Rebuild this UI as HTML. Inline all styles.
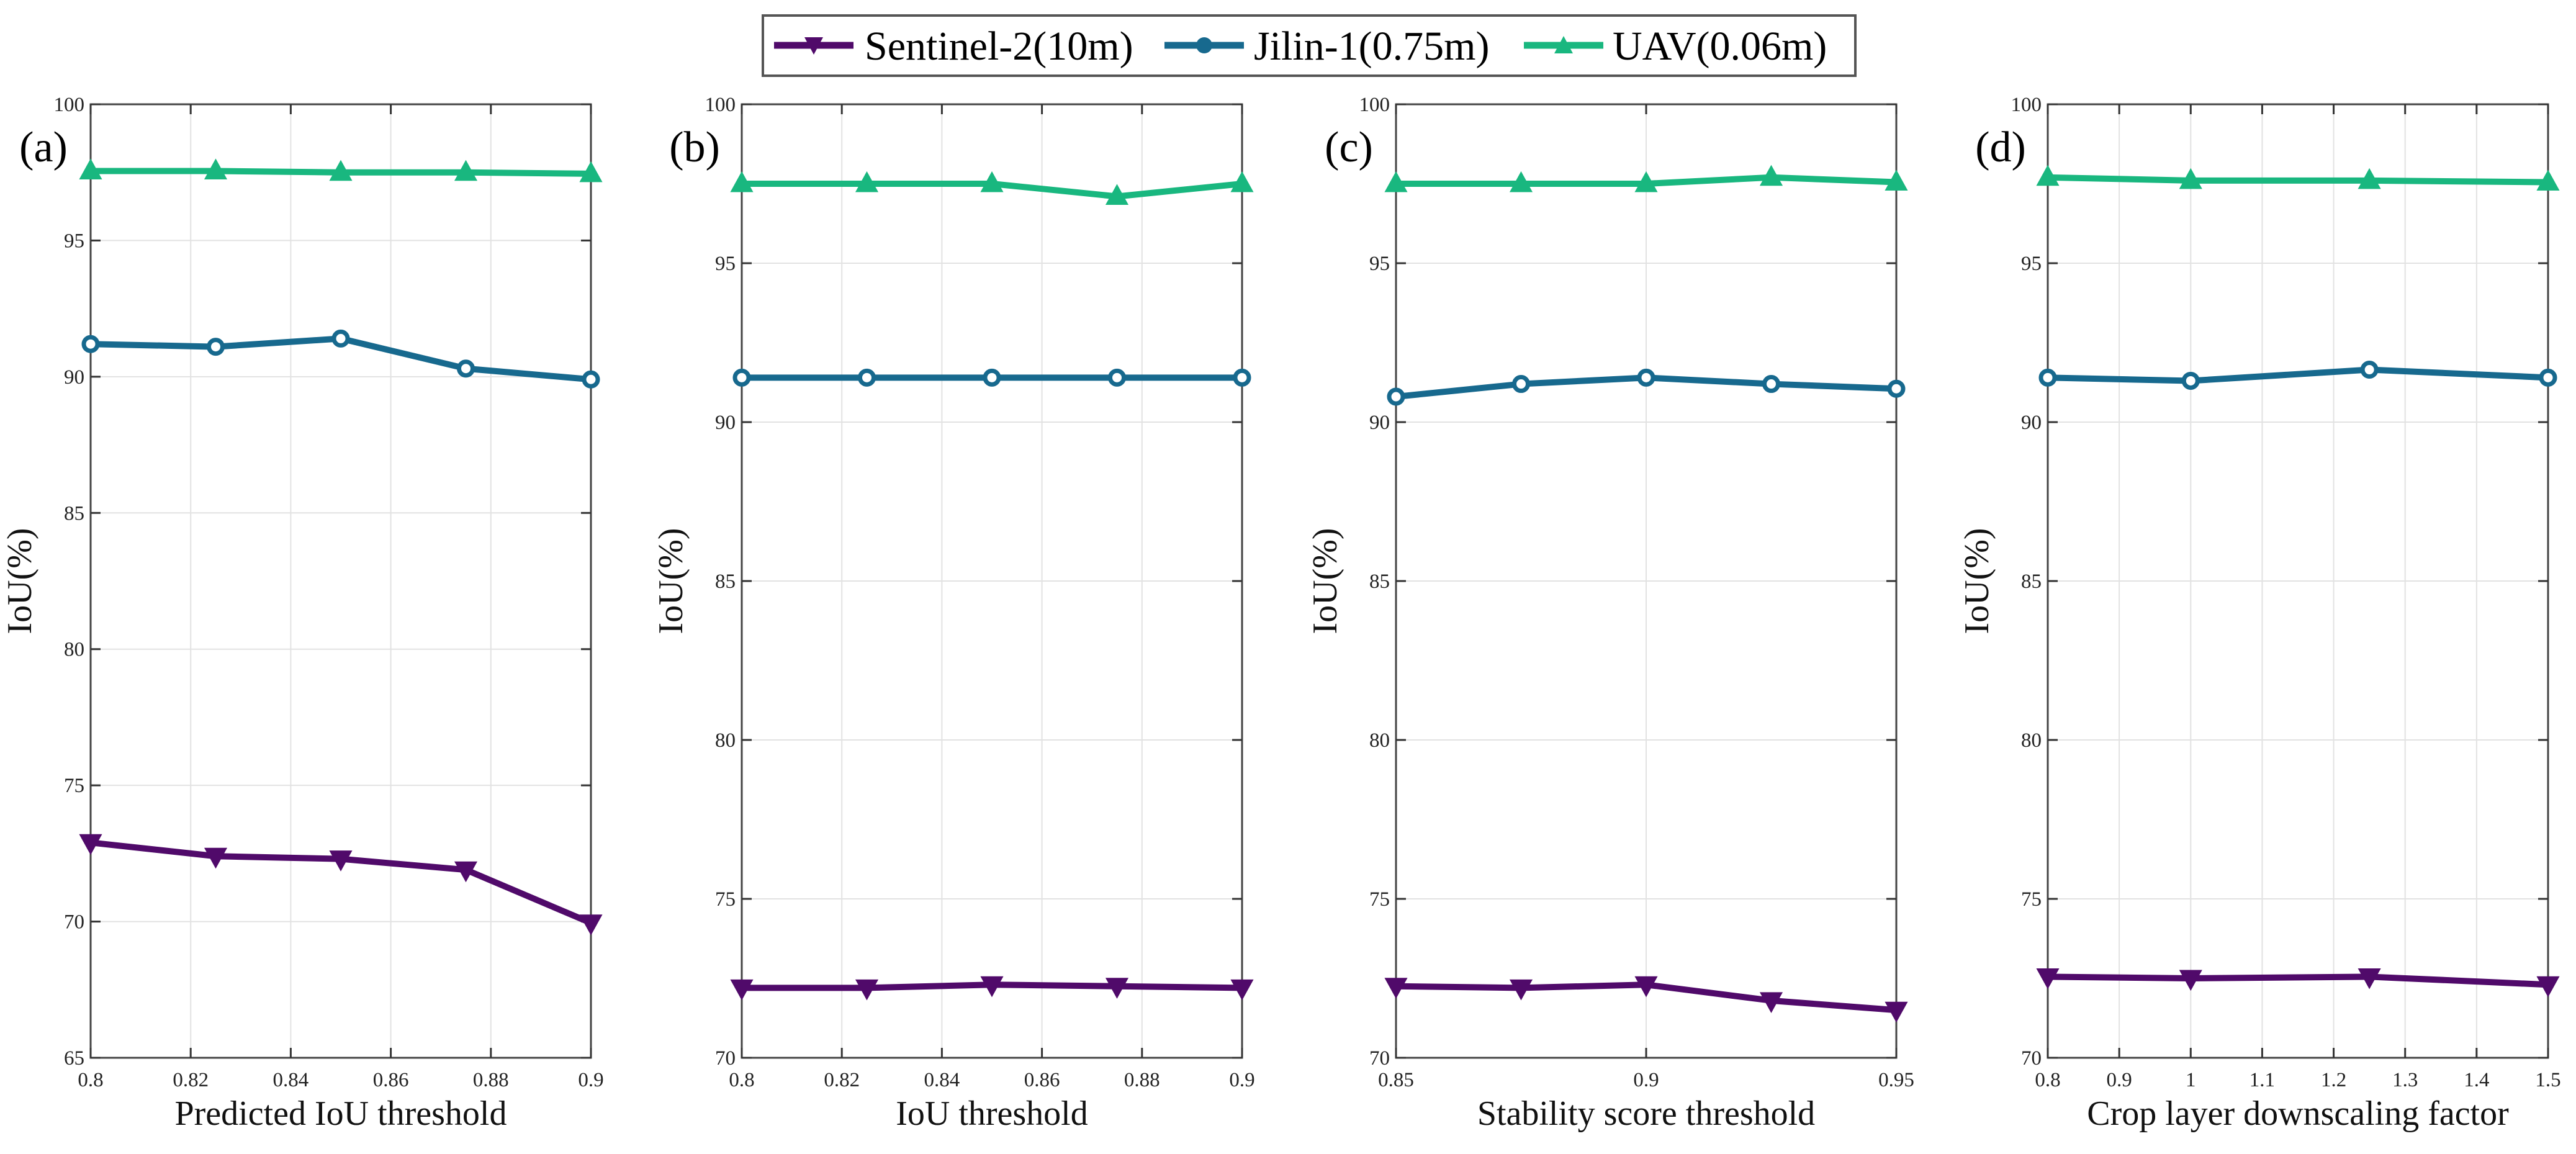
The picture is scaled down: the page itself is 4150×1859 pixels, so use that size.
<!DOCTYPE html>
<html><head><meta charset="utf-8"><style>
html,body{margin:0;padding:0;background:#fff;}
svg{display:block;font-family:"Liberation Serif","Times New Roman",serif;}
</style></head><body>
<svg id="fig" width="4150" height="1859" viewBox="0 0 4150 1859" xmlns="http://www.w3.org/2000/svg">
<g id="legend">
  <rect x="1229" y="25" width="1760" height="97" fill="#fff" stroke="#555" stroke-width="4"/>
  <g>
    <line x1="1247" y1="73" x2="1375" y2="73" stroke="#500a6a" stroke-width="11"/>
    <polygon points="1296,60 1326,60 1311,88" fill="#500a6a"/>
    <text x="1393" y="96" font-size="66">Sentinel-2(10m)</text>
  </g>
  <g>
    <line x1="1876" y1="73" x2="2004" y2="73" stroke="#17698e" stroke-width="11"/>
    <circle cx="1940" cy="73" r="13" fill="#17698e"/>
    <text x="2020" y="96" font-size="66">Jilin-1(0.75m)</text>
  </g>
  <g>
    <line x1="2455" y1="73" x2="2583" y2="73" stroke="#19b77f" stroke-width="11"/>
    <polygon points="2504,86 2534,86 2519,58" fill="#19b77f"/>
    <text x="2598" y="96" font-size="66">UAV(0.06m)</text>
  </g>
</g>
</svg>
<script>
// Panel (a)
const xA = [0.8, 0.825, 0.85, 0.875, 0.9];
const sentinelA = [72.9, 72.4, 72.3, 71.9, 69.95];
const jilinA = [91.2, 91.1, 91.4, 90.3, 89.9];
const uavA = [97.55, 97.55, 97.5, 97.5, 97.45];
const xTicksA = [0.8, 0.82, 0.84, 0.86, 0.88, 0.9];
const yTicksA = [65, 70, 75, 80, 85, 90, 95, 100];
// Panel (b)
const xB = [0.8, 0.825, 0.85, 0.875, 0.9];
const sentinelB = [72.2, 72.2, 72.3, 72.25, 72.2];
const jilinB = [91.4, 91.4, 91.4, 91.4, 91.4];
const uavB = [97.5, 97.5, 97.5, 97.1, 97.5];
const xTicksB = [0.8, 0.82, 0.84, 0.86, 0.88, 0.9];
const yTicksB = [70, 75, 80, 85, 90, 95, 100];
// Panel (c)
const xC = [0.85, 0.875, 0.9, 0.925, 0.95];
const sentinelC = [72.25, 72.2, 72.3, 71.8, 71.5];
const jilinC = [90.8, 91.2, 91.4, 91.2, 91.05];
const uavC = [97.5, 97.5, 97.5, 97.7, 97.55];
const xTicksC = [0.85, 0.9, 0.95];
const yTicksC = [70, 75, 80, 85, 90, 95, 100];
// Panel (d)
const xD = [0.8, 1.0, 1.25, 1.5];
const sentinelD = [72.55, 72.5, 72.55, 72.3];
const jilinD = [91.4, 91.3, 91.65, 91.4];
const uavD = [97.7, 97.6, 97.6, 97.55];
const xTicksD = [0.8, 0.9, 1, 1.1, 1.2, 1.3, 1.4, 1.5];
const yTicksD = [70, 75, 80, 85, 90, 95, 100];

const xTitles = ["Predicted IoU threshold", "IoU threshold", "Stability score threshold", "Crop layer downscaling factor"];
const panelLabels = ["(a)", "(b)", "(c)", "(d)"];

const NS = "http://www.w3.org/2000/svg";
const svg = document.getElementById("fig");
const COLORS = {s: "#500a6a", j: "#17698e", u: "#19b77f"};

function mk(tag, attrs, parent) {
  const e = document.createElementNS(NS, tag);
  for (const k in attrs) e.setAttribute(k, attrs[k]);
  parent.appendChild(e);
  return e;
}

const panels = [
  {left: 146, x: xA, s: sentinelA, j: jilinA, u: uavA, xt: xTicksA, yt: yTicksA},
  {left: 1195, x: xB, s: sentinelB, j: jilinB, u: uavB, xt: xTicksB, yt: yTicksB},
  {left: 2249, x: xC, s: sentinelC, j: jilinC, u: uavC, xt: xTicksC, yt: yTicksC},
  {left: 3299, x: xD, s: sentinelD, j: jilinD, u: uavD, xt: xTicksD, yt: yTicksD}
];
const W = 806, TOP = 168, BOT = 1704;

panels.forEach((p, i) => {
  const g = mk("g", {}, svg);
  
  
  const x0 = p.xt[0], x1 = p.xt[p.xt.length - 1];
  const y0 = p.yt[0], y1 = p.yt[p.yt.length - 1];
  const sx = v => p.left + (v - x0) / (x1 - x0) * W;
  const sy = v => BOT - (v - y0) / (y1 - y0) * (BOT - TOP);

  // grid
  p.xt.forEach(t => {
    const l = mk("line", {x1: sx(t), x2: sx(t), y1: TOP, y2: BOT, stroke: "#e2e2e2", "stroke-width": 2}, g);
    
    
  });
  p.yt.forEach(t => {
    const l = mk("line", {x1: p.left, x2: p.left + W, y1: sy(t), y2: sy(t), stroke: "#e2e2e2", "stroke-width": 2}, g);
    
    
  });
  // axes box
  const box = mk("rect", {x: p.left, y: TOP, width: W, height: BOT - TOP, fill: "none", stroke: "#444", "stroke-width": 3}, g);
  
  
  // ticks and labels
  p.xt.forEach(t => {
    mk("line", {x1: sx(t), x2: sx(t), y1: BOT, y2: BOT - 16, stroke: "#333", "stroke-width": 3}, g);
    mk("line", {x1: sx(t), x2: sx(t), y1: TOP, y2: TOP + 16, stroke: "#333", "stroke-width": 3}, g);
    const tx = mk("text", {x: sx(t), y: 1750, "font-size": 33, "text-anchor": "middle", fill: "#222"}, g);
    tx.textContent = String(t);
    
    
  });
  p.yt.forEach(t => {
    mk("line", {x1: p.left, x2: p.left + 16, y1: sy(t), y2: sy(t), stroke: "#333", "stroke-width": 3}, g);
    mk("line", {x1: p.left + W, x2: p.left + W - 16, y1: sy(t), y2: sy(t), stroke: "#333", "stroke-width": 3}, g);
    const ty = mk("text", {x: p.left - 10, y: sy(t) + 11, "font-size": 33, "text-anchor": "end", fill: "#222"}, g);
    ty.textContent = String(t);
    
    
  });
  // titles
  const xt = mk("text", {x: p.left + W / 2, y: 1812, "font-size": 56, "text-anchor": "middle", fill: "#111"}, g);
  xt.textContent = xTitles[i];
  
  
  const yl = mk("text", {x: 0, y: 0, "font-size": 56, "text-anchor": "middle", fill: "#111", transform: `translate(${p.left - 96},936) rotate(-90)`}, g);
  yl.textContent = "IoU(%)";
  
  
  const pl = mk("text", {x: p.left - 76, y: 260, "font-size": 70, "text-anchor": "middle", fill: "#000"}, g);
  pl.textContent = panelLabels[i];
  
  

  // series
  [["s", "sentinel"], ["j", "jilin"], ["u", "uav"]].forEach(([key, name]) => {
    const vals = p[key];
    const pts = vals.map((v, k) => sx(p.x[k]) + "," + sy(v)).join(" ");
    const line = mk("polyline", {points: pts, fill: "none", stroke: COLORS[key], "stroke-width": 10, "stroke-linejoin": "round"}, g);
    
    
    vals.forEach((v, k) => {
      const cx = sx(p.x[k]), cy = sy(v);
      let m;
      if (key === "s") m = mk("polygon", {points: `${cx-16},${cy-12} ${cx+16},${cy-12} ${cx},${cy+17}`, fill: COLORS[key], stroke: COLORS[key], "stroke-width": 3}, g);
      else if (key === "j") m = mk("circle", {cx: cx, cy: cy, r: 11, fill: "#fff", stroke: COLORS[key], "stroke-width": 7}, g);
      else m = mk("polygon", {points: `${cx-16},${cy+12} ${cx+16},${cy+12} ${cx},${cy-17}`, fill: COLORS[key], stroke: COLORS[key], "stroke-width": 3}, g);
      
      
    });
  });
});
svg.appendChild(document.getElementById("legend"));
</script>
</body></html>
